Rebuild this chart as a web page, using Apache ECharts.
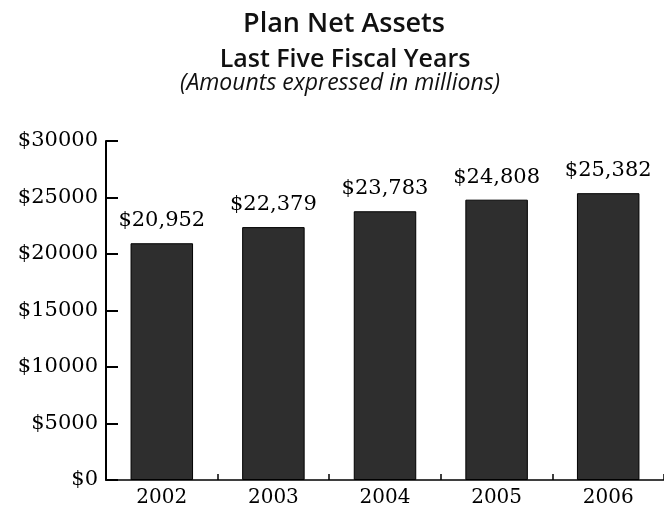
<!DOCTYPE html>
<html>
<head>
<meta charset="utf-8">
<script src="https://cdn.jsdelivr.net/npm/echarts@6/dist/echarts.min.js"></script>
<style>html,body{margin:0;padding:0;background:#fff;}#chart{width:664px;height:508px;}</style>
</head>
<body>
<div id="chart"></div>
<script>
const years = ['2002', '2003', '2004', '2005', '2006'];
const netAssets = [20952, 22379, 23783, 24808, 25382];
const yMin = 0, yMax = 30000, yStep = 5000;
const titleLines = ['Plan Net Assets', 'Last Five Fiscal Years', '(Amounts expressed in millions)'];

const chart = echarts.init(document.getElementById('chart'), null, {renderer: 'canvas'});
const serif = 'DejaVu Serif';
const sans = 'Open Sans';
chart.setOption({
  animation: false,
  backgroundColor: '#fff',
  title: [
    {text: titleLines[0], left: 339, top: 6, textAlign: 'center',
     textStyle: {fontFamily: sans, fontSize: 27, fontWeight: 600, color: '#111'}},
    {text: titleLines[1], left: 340, top: 42, textAlign: 'center',
     textStyle: {fontFamily: sans, fontSize: 25, fontWeight: 600, color: '#111'}},
    {text: titleLines[2], left: 335, top: 67, textAlign: 'center',
     textStyle: {fontFamily: sans, fontSize: 23, fontStyle: 'italic', fontWeight: 'normal', color: '#111'}}
  ],
  grid: {left: 106, top: 141, width: 560, bottom: 27, containLabel: false},
  xAxis: {
    type: 'category',
    data: years,
    boundaryGap: true,
    axisLine: {lineStyle: {color: '#000', width: 1.5}},
    axisTick: {show: true, inside: true, length: 6, alignWithLabel: false, lineStyle: {color: '#000', width: 1.5}},
    axisLabel: {fontFamily: serif, fontSize: 20, color: '#000', margin: 8}
  },
  yAxis: {
    type: 'value',
    min: yMin, max: yMax, interval: yStep,
    splitLine: {show: false},
    axisLine: {show: true, lineStyle: {color: '#000', width: 2}},
    axisTick: {show: true, inside: true, length: 12, lineStyle: {color: '#000', width: 2}},
    axisLabel: {fontFamily: serif, fontSize: 21, color: '#000', margin: 8,
      formatter: v => '$' + v}
  },
  series: [{
    type: 'bar',
    data: netAssets,
    barWidth: '56%',
    itemStyle: {color: '#2e2e2e', borderColor: '#000', borderWidth: 1},
    label: {show: true, position: 'top', distance: 12,
      fontFamily: serif, fontSize: 21, color: '#000',
      formatter: p => '$' + p.value.toLocaleString('en-US')}
  }]
});
</script>
</body>
</html>
